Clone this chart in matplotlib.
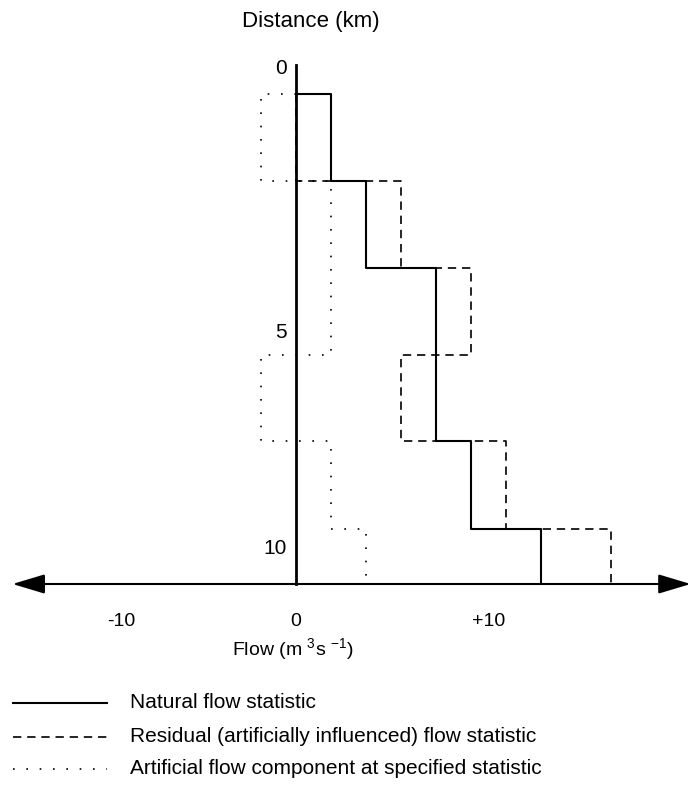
import matplotlib
matplotlib.use("Agg")
import matplotlib.pyplot as plt
from matplotlib.patches import FancyArrowPatch

plt.rcParams['font.family'] = ['Liberation Sans', 'DejaVu Sans']
plt.rcParams['mathtext.fontset'] = 'custom'
plt.rcParams['mathtext.rm'] = 'Liberation Sans'

# reach boundaries down the river (km), last one is the baseline
reach_edges_km = [0.5, 2.24, 3.97, 5.72, 7.44, 9.2, 10.3]
# flow in each reach (m3/s)
flow_natural = [2, 4, 8, 8, 10, 14]
flow_residual = [0, 6, 10, 6, 12, 18]
flow_artificial = [-2, 2, 2, -2, 2, 4]

x_tick_pos = [-10, 0, 11]
x_tick_labels = ['-10', '0', '+10']
y_tick_pos = [0, 5.26, 9.6]
y_tick_labels = ['0', '5', '10']

legend_labels = ['Natural flow statistic',
                 'Residual (artificially influenced) flow statistic',
                 'Artificial flow component at specified statistic']


def steps(values, edges, start=0):
    xs, ys = [start], [edges[0]]
    for i, v in enumerate(values):
        xs += [v, v]
        ys += [edges[i], edges[i + 1]]
    return xs, ys


fig = plt.figure(figsize=(6.92, 7.85), dpi=100)
ax = fig.add_axes([0, 0, 1, 1])
px_unit = 17.5   # px per m3/s
px_km = 50.0     # px per km
ax.set_xlim(-296 / px_unit, (692 - 296) / px_unit)
ax.set_ylim((785 - 69) / px_km, -69 / px_km)
ax.axis('off')

styles = [dict(ls='-', lw=1.5),
          dict(ls=(0, (5, 3.5)), lw=1.2),
          dict(ls=(0, (1, 7)), lw=1.2)]
for vals, st in zip([flow_natural, flow_residual, flow_artificial], styles):
    xs, ys = steps(vals, reach_edges_km)
    ax.plot(xs, ys, color='black', solid_capstyle='butt', **st)

# axes
base = reach_edges_km[-1]
ax.plot([0, 0], [-0.08, base], color='black', lw=2)
arr = FancyArrowPatch((-16.2, base), (22.55, base),
                      arrowstyle='<|-|>,head_length=1.0,head_width=0.3',
                      mutation_scale=20, lw=1.5, color='black',
                      shrinkA=0, shrinkB=0)
ax.add_patch(arr)

for p, t in zip(x_tick_pos, x_tick_labels):
    ax.text(p, (622 - 69) / px_km, t, ha='center', va='center', fontsize=14)
for p, t in zip(y_tick_pos, y_tick_labels):
    ax.text(-0.5, p, t, ha='right', va='center', fontsize=15)

# overlay in pixel coordinates for titles and legend
ov = fig.add_axes([0, 0, 1, 1])
ov.set_xlim(0, 692)
ov.set_ylim(785, 0)
ov.axis('off')
ov.patch.set_alpha(0)

ov.text(311, 21, 'Distance (km)', ha='center', va='center', fontsize=16)
ov.text(293, 650, r'Flow (m $^{\mathrm{3}}$s $^{\mathrm{-1}}$)',
        ha='center', va='center', fontsize=14)

rows = [703, 737, 769]
for y, st, lab in zip(rows, styles, legend_labels):
    ov.plot([13, 107], [y, y], color='black', **st)
    ov.text(130, y, lab, ha='left', va='center', fontsize=15)

fig.savefig('out.png', dpi=100)
